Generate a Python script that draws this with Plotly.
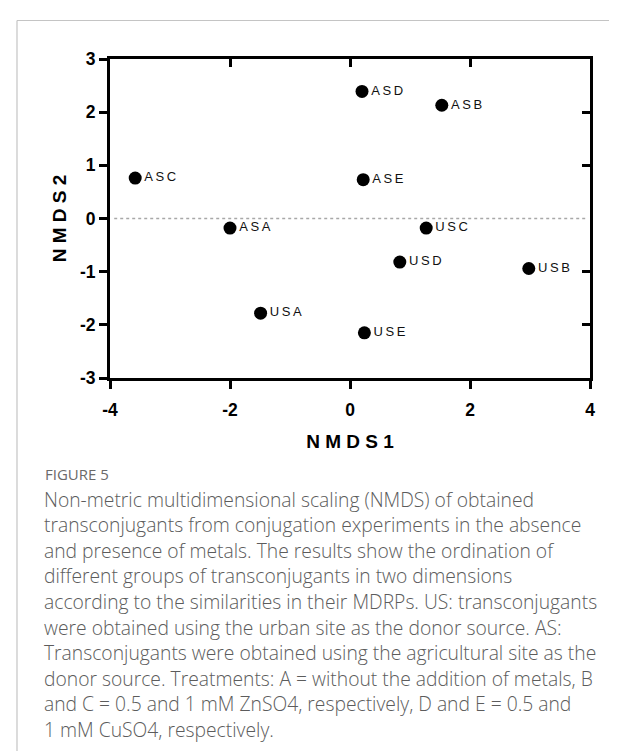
import plotly.graph_objects as go

# ---- data ----
labels = ["ASD", "ASB", "ASC", "ASE", "ASA", "USC", "USD", "USB", "USA", "USE"]
nmds1 = [0.20, 1.53, -3.58, 0.22, -2.00, 1.27, 0.83, 2.98, -1.49, 0.24]
nmds2 = [2.39, 2.13, 0.76, 0.73, -0.18, -0.18, -0.82, -0.94, -1.78, -2.15]
x_ticks = [-4, -2, 0, 2, 4]
y_ticks = [-3, -2, -1, 0, 1, 2, 3]

caption_title = "FIGURE 5"
caption_lines = [
    "Non-metric multidimensional scaling (NMDS) of obtained",
    "transconjugants from conjugation experiments in the absence",
    "and presence of metals. The results show the ordination of",
    "different groups of transconjugants in two dimensions",
    "according to the similarities in their MDRPs. US: transconjugants",
    "were obtained using the urban site as the donor source. AS:",
    "Transconjugants were obtained using the agricultural site as the",
    "donor source. Treatments: A = without the addition of metals, B",
    "and C = 0.5 and 1 mM ZnSO4, respectively, D and E = 0.5 and",
    "1 mM CuSO4, respectively.",
]

W, H = 617, 751
L, R, T, B = 102, 582, 51, 370  # plot area in pixels


def px(x):
    return (x - L) / (R - L)


def py(y):
    return (B - y) / (B - T)


def spaced(s, sep="\u2009"):
    return sep.join(s)


AX_FONT = "Liberation Sans, Arial, sans-serif"

fig = go.Figure()
fig.add_trace(go.Scatter(
    x=nmds1, y=nmds2, mode="markers+text",
    text=[spaced(t) for t in labels], textposition="middle right",
    textfont=dict(family=AX_FONT, size=13, color="#111"),
    marker=dict(size=13, color="black"),
    cliponaxis=False, hoverinfo="skip", showlegend=False,
))
# invisible trace for mirrored axes
fig.add_trace(go.Scatter(x=[None], y=[None], xaxis="x2", yaxis="y2",
                         showlegend=False, hoverinfo="skip"))

axis_common = dict(showline=True, linewidth=3, linecolor="black",
                   showgrid=False, zeroline=False, tickwidth=3, ticklen=8,
                   tickcolor="black")

fig.update_layout(
    width=W, height=H,
    margin=dict(l=L, r=W - R, t=T, b=H - B),
    paper_bgcolor="white", plot_bgcolor="white",
    showlegend=False,
    xaxis=dict(range=[-4, 4], tickvals=x_ticks, ticktext=[str(v) for v in x_ticks],
               ticks="outside", ticklabelstandoff=6,
               tickfont=dict(family=AX_FONT, size=17.5, color="black", weight="bold"),
               title=dict(text="<b>" + spaced("NMDS1", " ") + "</b>",
                          font=dict(family=AX_FONT, size=19, color="black"),
                          standoff=16),
               **axis_common),
    yaxis=dict(range=[-3, 3], tickvals=y_ticks, ticktext=[str(v) for v in y_ticks],
               ticks="outside",
               tickfont=dict(family=AX_FONT, size=17.5, color="black", weight="bold"),
               title=dict(text="<b>" + spaced("NMDS2", " ") + "</b>",
                          font=dict(family=AX_FONT, size=19, color="black"),
                          standoff=9),
               **axis_common),
    xaxis2=dict(range=[-4, 4], overlaying="x", side="top", tickvals=[-2, 0, 2],
                ticks="inside", showticklabels=False, **axis_common),
    yaxis2=dict(range=[-3, 3], overlaying="y", side="right", tickvals=[-2, -1, 1, 2],
                ticks="inside", showticklabels=False, **axis_common),
)

shapes = [
    # dotted zero line
    dict(type="line", xref="x", yref="y", x0=-3.93, x1=3.95, y0=0, y1=0,
         line=dict(color="#a8a8a8", width=1.5, dash="dot"), layer="below"),
    # page frame
    dict(type="line", xref="paper", yref="paper", x0=px(9), x1=px(W + 2),
         y0=py(12.5), y1=py(12.5), line=dict(color="#c4c4c4", width=1.2)),
    dict(type="line", xref="paper", yref="paper", x0=px(9), x1=px(9),
         y0=py(12.5), y1=py(H + 2), line=dict(color="#c4c4c4", width=1.2)),
]
fig.update_layout(shapes=shapes)

CAP_FONT = "Open Sans, Lato, sans-serif"
ann = [dict(text=caption_title, xref="paper", yref="paper", x=px(35), y=py(466),
            xanchor="left", yanchor="middle", showarrow=False,
            font=dict(family=CAP_FONT, size=15, color="#6a6a6a"))]
for i, line in enumerate(caption_lines):
    ann.append(dict(text=line, xref="paper", yref="paper", x=px(34), y=py(491 + i * 25.6),
                    xanchor="left", yanchor="middle", showarrow=False,
                    font=dict(family=CAP_FONT, size=19.3, color="#5c5c5c", weight=300)))
fig.update_layout(annotations=ann)

fig.write_html("out.html")
